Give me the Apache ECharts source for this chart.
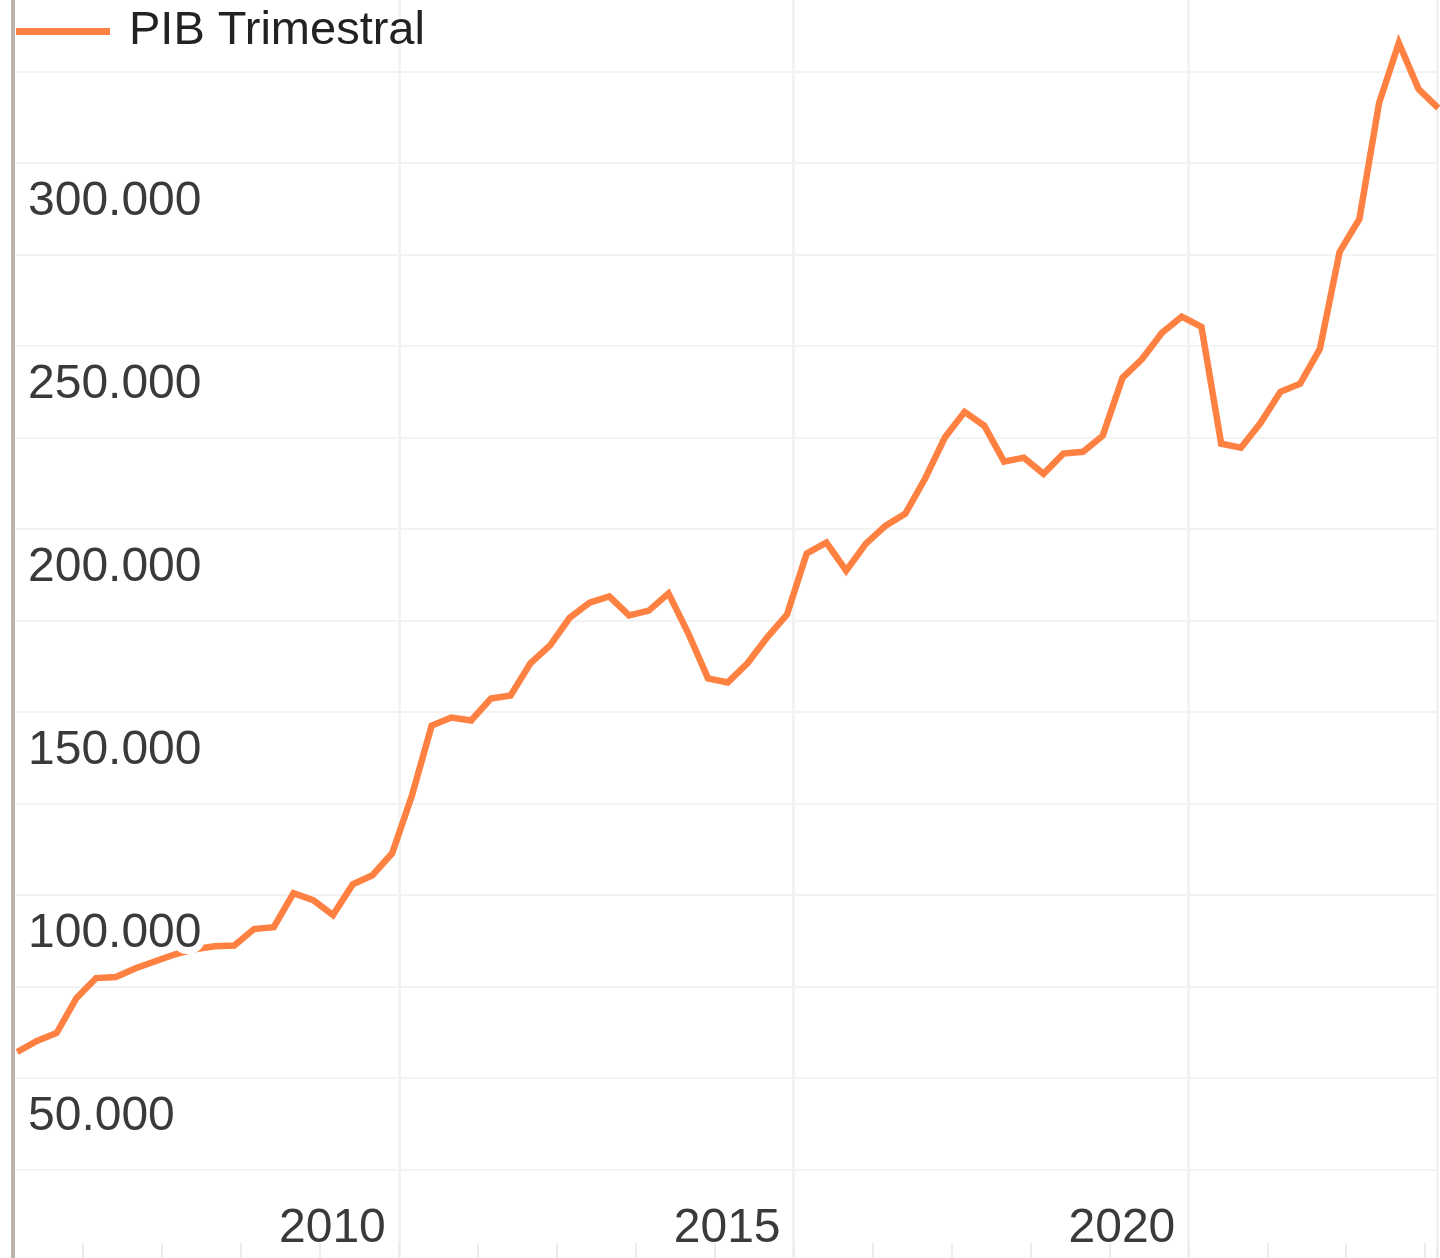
<!DOCTYPE html>
<html>
<head>
<meta charset="utf-8">
<title>PIB Trimestral</title>
<script src="https://cdn.jsdelivr.net/npm/echarts@6/dist/echarts.min.js"></script>
<style>
    html, body { margin: 0; padding: 0; background: #fff; overflow: hidden; }
    /* el gráfico original está recortado: 350.000 cae 20px por encima del borde */
    #main { position: absolute; left: 0; top: -20px; width: 1440px; height: 1281px; }
</style>
</head>
<body>
<div id="main"></div>
<script>
;(function(){
    var seriesName = 'PIB Trimestral';

    // trimestres 2005T1 .. 2023T1
    var firstYear = 2005, nQuarters = 73;
    var quarters = [];
    for (var i = 0; i < nQuarters; i++) {
        quarters.push([firstYear + Math.floor(i / 4), i % 4 + 1]);
    }

    var pib = [
        57100, 60100, 62300, 71800,
        77300, 77600, 80000, 81900,
        83800, 85200, 86000, 86200,
        90700, 91200, 100500, 98600,
        94500, 102900, 105400, 111400,
        127200, 146300, 148500, 147700,
        153700, 154500, 163300, 168200,
        175800, 179900, 181600, 176400,
        177700, 182400, 171500, 159200,
        158100, 163300, 170400, 176600,
        193300, 196300, 188600, 196000,
        200900, 204200, 213800, 225000,
        232000, 228200, 218400, 219500,
        215100, 220600, 221100, 225500,
        241300, 246500, 253600, 258000,
        255200, 223300, 222200, 229000,
        237500, 239700, 249200, 275700,
        284700, 316400, 332800, 320200,
        315000
    ];

    var yearLabels = [2010, 2015, 2020];
    var yLabelValues = [50000, 100000, 150000, 200000, 250000, 300000];

    var orange = '#ff8142';
    var gridColor = '#f3f3f3';
    var font = 'Liberation Sans, Arial, sans-serif';

    // cada trimestre se pinta en el segundo mes del trimestre
    var data = quarters.map(function(q, i) {
        return [q[0] + (3 * q[1] - 1) / 12, pib[i]];
    });

    function miles(v) {
        return String(v).replace(/\B(?=(\d{3})+(?!\d))/g, '.');
    }

    var option = {
        animation: false,
        backgroundColor: '#fff',
        grid: { left: 4, right: 0, top: 0, bottom: 0, containLabel: false },
        // tapa el trozo de rejilla que queda a la izquierda del eje
        graphic: [{
            type: 'rect',
            z: 1,
            shape: { x: 0, y: 0, width: 12, height: 1281 },
            style: { fill: '#fff' }
        }],
        legend: {
            data: [seriesName],
            left: 11,
            top: 23,
            icon: 'rect',
            itemWidth: 94,
            itemHeight: 7,
            textStyle: { fontSize: 47, color: '#222', fontFamily: font, padding: [0, 0, 0, 14] }
        },
        xAxis: [
            {
                type: 'value',
                min: 2005,
                max: 2023.15,
                interval: 1,
                axisLine: { show: false },
                axisTick: { show: true, inside: true, length: 18, lineStyle: { color: '#ececec', width: 2 } },
                axisLabel: {
                    inside: true,
                    margin: 8,
                    align: 'right',
                    padding: [0, 13, 0, 0],
                    fontSize: 48,
                    color: '#3a3a3a',
                    fontFamily: font,
                    formatter: function(v) {
                        var r = Math.round(v);
                        return Math.abs(v - r) < 1e-6 && yearLabels.indexOf(r) >= 0 ? String(r) : '';
                    }
                },
                splitLine: { show: false }
            },
            {
                type: 'value',
                position: 'bottom',
                min: 2005,
                max: 2023.15,
                interval: 5,
                axisLine: { show: false },
                axisTick: { show: false },
                axisLabel: { show: false },
                splitLine: { show: true, showMinLine: false, lineStyle: { color: gridColor, width: 3 } }
            }
        ],
        yAxis: [
            {
                type: 'value',
                position: 'left',
                min: 0,
                max: 350000,
                interval: 25000,
                axisLine: { show: false },
                axisTick: { show: false },
                axisLabel: { show: false },
                splitLine: { show: true, lineStyle: { color: gridColor, width: 2 } }
            },
            {
                type: 'value',
                position: 'left',
                min: 0,
                max: 350000,
                interval: 25000,
                offset: -9,
                z: 5,
                axisLine: { show: true, onZero: false, lineStyle: { color: '#bdb3ab', width: 4 } },
                axisTick: { show: false },
                splitLine: { show: false },
                axisLabel: {
                    inside: true,
                    margin: 15,
                    verticalAlign: 'top',
                    padding: [15, 0, 0, 0],
                    fontSize: 48,
                    color: '#3a3a3a',
                    fontFamily: font,
                    textBorderColor: '#fff',
                    textBorderWidth: 14,
                    formatter: function(v) {
                        return yLabelValues.indexOf(v) >= 0 ? miles(v) : '';
                    }
                }
            }
        ],
        series: [
            {
                name: seriesName,
                type: 'line',
                xAxisIndex: 0,
                yAxisIndex: 0,
                symbol: 'none',
                showSymbol: false,
                color: orange,
                lineStyle: { color: orange, width: 6.5, join: 'miter' },
                data: data
            }
        ]
    };

    echarts.init(document.getElementById('main')).setOption(option);
})();
</script>
</body>
</html>
